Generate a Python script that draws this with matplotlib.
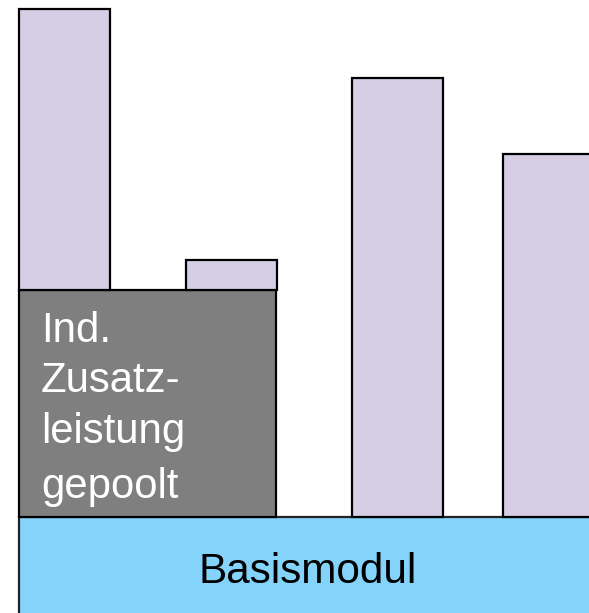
import matplotlib
matplotlib.use("Agg")
import matplotlib.pyplot as plt

# Data (units: height above the base module line)
bar_x = [64.5, 231, 397, 548.5]
bar_bottom = [227, 227, 0, 0]
bar_top = [508, 257, 439, 363]
bar_width = 91

pool_x = 147.5
pool_width = 257
pool_height = 227
pool_label = ["Ind.", "Zusatz-", "leistung", "gepoolt"]

base_label = "Basismodul"

LAV = "#D5CEE5"
BLUE = "#83D3FB"
GRAY = "#7F7F7F"

plt.rcParams['font.family'] = ['Liberation Sans', 'DejaVu Sans']

fig = plt.figure(figsize=(5.89, 6.13), dpi=100)
ax = fig.add_axes([0, 0, 1, 1])
ax.set_xlim(0, 589)
ax.set_ylim(-96, 517)
ax.axis('off')

# base module band
ax.bar(19 + 400, 120, width=800, bottom=-120, color=BLUE, edgecolor="#222222",
       linewidth=1.6, zorder=1)
ax.text(307.5, -66, base_label, ha='center', va='baseline', fontsize=30.4,
        color='black', zorder=5)

# pooled additional service block
ax.bar(pool_x, pool_height, width=pool_width, bottom=0, color=GRAY,
       edgecolor="black", linewidth=1.6, zorder=2)
baselines = [175, 125, 74, 19]
for line, yb in zip(pool_label, baselines):
    ax.text(41, yb, line, ha='left', va='baseline', fontsize=30.2, color='white', zorder=5)

# individual bars
heights = [t - b for t, b in zip(bar_top, bar_bottom)]
ax.bar(bar_x, heights, width=bar_width, bottom=bar_bottom, color=LAV,
       edgecolor="black", linewidth=1.6, zorder=3)

fig.savefig("out.png", dpi=100)
